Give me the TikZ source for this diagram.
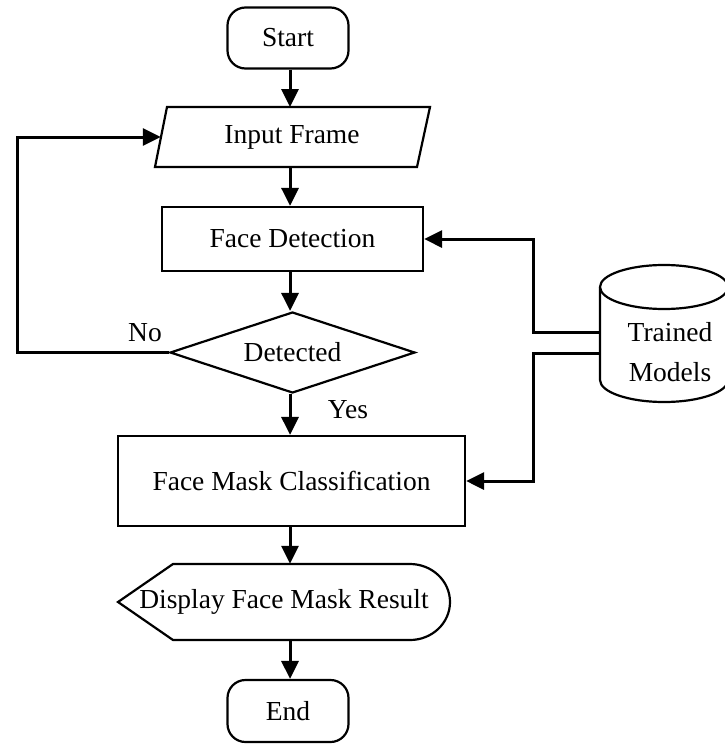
\documentclass[tikz,border=0pt]{standalone}
\usepackage{fontspec}
\setmainfont{Liberation Serif}
\usetikzlibrary{arrows.meta,shapes.geometric}
\begin{document}
\begin{tikzpicture}[x=1pt,y=-1pt,
  every node/.style={font=\fontsize{27.5}{40}\selectfont, inner sep=0pt},
  shp/.style={draw=black, line width=2.2pt, fill=white},
  term/.style={shp, rectangle, rounded corners=18pt, minimum width=121pt, minimum height=61pt},
  procbox/.style={shp, rectangle},
  anchorbox/.style={rectangle, draw=none},
  arr/.style={line width=3pt, -{Triangle[length=18pt,width=17pt]}},
  conn/.style={line width=3pt}
]
\useasboundingbox (0,0) rectangle (725,744);

% Start
\node[term] (start) at (288,38) {Start};

% Input Frame (parallelogram)
\draw[shp] (167,107) -- (430,107) -- (417,167) -- (155,167) -- cycle;
\node[anchorbox, minimum width=262pt, minimum height=60pt] (input) at (292,137) {Input Frame};

% Face Detection
\node[procbox, minimum width=261pt, minimum height=64pt] (fdet) at (292.5,239) {Face Detection};

% Detected (decision)
\node[shp, diamond, aspect=3, minimum width=245pt, minimum height=81pt] (det) at (292.5,352.5) {Detected};

% Face Mask Classification
\node[procbox, minimum width=347pt, minimum height=90pt] (fmc) at (291.5,481) {Face Mask Classification};

% Display
\draw[shp] (118,602) -- (173,564) -- (410,564)
  arc[start angle=90, end angle=-90, x radius=40pt, y radius=38pt]
  -- (173,640) -- cycle;
\node[anchorbox, minimum width=332pt, minimum height=76pt] (disp) at (284,602) {Display Face Mask Result};

% End
\node[term, minimum height=62pt] (endn) at (288,711) {End};

% Trained Models (database cylinder)
\draw[shp] (600,287) -- (600,380)
  arc[start angle=180, end angle=360, x radius=64pt, y radius=22pt]
  -- (728,287);
\draw[shp] (664,287) ellipse [x radius=64pt, y radius=22pt];
\node[align=center] (db) at (670,352) {Trained\\Models};

% named points for connectors
\coordinate (dbA) at (600,332);
\coordinate (dbB) at (600,353);
\coordinate (jA) at (533,332);
\coordinate (jB) at (533,353);
\coordinate (loop) at (17,352.5);

% main flow
\draw[arr] (start.south -| 290,0) -- (290,107);
\draw[arr] (290,167) -- (fdet.north -| 290,0);
\draw[arr] (fdet.south -| 290,0) -- (det.north -| 290,0);
\draw[arr] (det.south -| 290,0) -- (fmc.north -| 290,0);
\draw[arr] (fmc.south -| 290,0) -- (disp.north -| 290,0);
\draw[arr] (disp.south -| 290,0) -- (endn.north -| 290,0);

% No loop
\draw[arr] (det.west) -- (loop) |- (input.west);

% model connectors
\draw[arr] (dbA) -- (jA) |- (fdet.east);
\draw[arr] (dbB) -- (jB) |- (fmc.east);

% labels
\node (nolbl) at (145,333) {No};
\node (yeslbl) at (348,410) {Yes};
\end{tikzpicture}
\end{document}
